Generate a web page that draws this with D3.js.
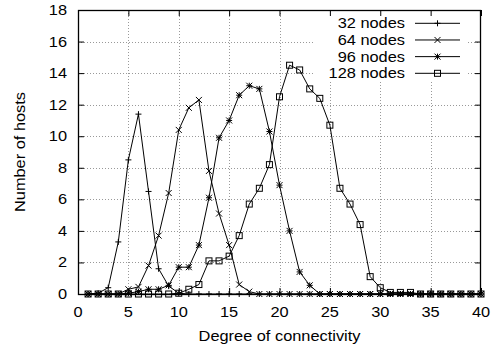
<!DOCTYPE html>
<html>
<head>
<meta charset="utf-8">
<script src="https://cdn.jsdelivr.net/npm/d3@7"></script>
<style>
  html, body { margin: 0; padding: 0; background: #fff; }
  svg text { font-family: "Liberation Sans", Arial, Helvetica, sans-serif; font-size: 14px; fill: #000; }
</style>
</head>
<body>
<svg id="chart" width="492" height="354"></svg>
<script>
// Degree of connectivity (x = 1..40)
const degrees = d3.range(1, 41);

// Number of hosts with each degree, per network size
const hosts32 = [0, 0.05, 0.4, 3.3, 8.5, 11.4, 6.5, 1.6, 0.5, 0.05,
  0, 0, 0, 0, 0, 0, 0, 0, 0, 0, 0, 0, 0, 0, 0, 0, 0, 0, 0, 0,
  0, 0, 0, 0, 0, 0, 0, 0, 0, 0];
const hosts64 = [0, 0, 0, 0, 0.3, 0.45, 1.8, 3.7, 6.4, 10.4,
  11.8, 12.3, 7.8, 5.1, 3.1, 0.6, 0.15, 0, 0, 0, 0, 0, 0, 0, 0, 0, 0, 0, 0, 0,
  0, 0, 0, 0, 0, 0, 0, 0, 0, 0];
const hosts96 = [0, 0, 0, 0, 0.05, 0.15, 0.3, 0.3, 0.55, 1.7,
  1.7, 3.1, 6.1, 9.9, 11.0, 12.6, 13.2, 13.0, 10.3, 6.9,
  4.0, 1.4, 0.55, 0, 0, 0, 0, 0, 0, 0, 0, 0, 0, 0, 0, 0, 0, 0, 0, 0];
const hosts128 = [0, 0, 0, 0, 0, 0, 0, 0, 0, 0.05,
  0.3, 0.6, 2.1, 2.1, 2.4, 3.7, 5.7, 6.7, 8.2, 12.5,
  14.5, 14.2, 13.0, 12.4, 10.7, 6.7, 5.7, 4.4, 1.1, 0.4,
  0.1, 0.1, 0.1, 0, 0, 0, 0, 0, 0, 0];

const seriesNames = ["32 nodes", "64 nodes", "96 nodes", "128 nodes"];
const seriesMarkers = ["plus", "cross", "star", "box"];
const seriesValues = [hosts32, hosts64, hosts96, hosts128];

const xTicks = [0, 5, 10, 15, 20, 25, 30, 35, 40];
const yTicks = [0, 2, 4, 6, 8, 10, 12, 14, 16, 18];

const svg = d3.select("#chart");
const L = 78, R = 481, T = 10, B = 294;
const STRETCH = 1.17; // horizontal stretch of the label font

const x = d3.scaleLinear().domain([0, 40]).range([L, R]);
const y = d3.scaleLinear().domain([0, 18]).range([B, T]);

// Text helper: places a horizontally stretched label
function label(px, py, str, anchor, rotate) {
  return svg.append("text")
    .attr("transform", `translate(${px},${py})${rotate ? " rotate(-90)" : ""} scale(${STRETCH},1)`)
    .attr("text-anchor", anchor).text(str);
}

// Grid lines (dotted grey)
const grid = svg.append("g").attr("stroke", "#999").attr("stroke-width", 1)
  .attr("stroke-dasharray", "1,2").attr("shape-rendering", "crispEdges");
xTicks.filter(v => v > 0 && v < 40).forEach(v => {
  grid.append("line").attr("x1", Math.round(x(v)) + 0.5).attr("x2", Math.round(x(v)) + 0.5)
    .attr("y1", T).attr("y2", B);
});
yTicks.filter(v => v > 0 && v < 18).forEach(v => {
  grid.append("line").attr("y1", Math.round(y(v)) + 0.5).attr("y2", Math.round(y(v)) + 0.5)
    .attr("x1", L).attr("x2", R);
});

// Key background hides the grid behind it
svg.append("rect").attr("x", 314).attr("y", T + 1).attr("width", 154).attr("height", 70)
  .attr("fill", "#fff");

// Tick marks mirrored on all four sides
const tick = 6;
svg.append("g").attr("transform", `translate(0,${B})`)
  .call(d3.axisBottom(x).tickValues(xTicks).tickSize(-tick).tickFormat(""))
  .call(g => g.select(".domain").remove());
svg.append("g").attr("transform", `translate(${L},0)`)
  .call(d3.axisLeft(y).tickValues(yTicks).tickSize(-tick).tickFormat(""))
  .call(g => g.select(".domain").remove());
svg.append("g").attr("transform", `translate(0,${T})`)
  .call(d3.axisTop(x).tickValues(xTicks).tickSize(-tick).tickFormat(""))
  .call(g => g.select(".domain").remove());
svg.append("g").attr("transform", `translate(${R},0)`)
  .call(d3.axisRight(y).tickValues(yTicks).tickSize(-tick).tickFormat(""))
  .call(g => g.select(".domain").remove());
svg.selectAll(".tick line").attr("stroke", "#000");

// Tick labels
xTicks.forEach(v => label(x(v), 317, String(v), "middle"));
yTicks.forEach(v => label(67, y(v) + 5, String(v), "end"));

svg.append("rect").attr("x", L + 0.5).attr("y", T + 0.5).attr("width", R - L - 1).attr("height", B - T)
  .attr("fill", "none").attr("stroke", "#000").attr("stroke-width", 1.3);

// Marker shapes
function drawMarker(g, kind, cx, cy) {
  const s = 3;
  if (kind === "plus") {
    g.append("path").attr("d", `M${cx - s},${cy}H${cx + s}M${cx},${cy - s}V${cy + s}`);
  } else if (kind === "cross") {
    g.append("path").attr("d", `M${cx - s},${cy - s}L${cx + s},${cy + s}M${cx - s},${cy + s}L${cx + s},${cy - s}`);
  } else if (kind === "star") {
    g.append("path").attr("d", `M${cx - s},${cy - s}L${cx + s},${cy + s}M${cx - s},${cy + s}L${cx + s},${cy - s}M${cx - s},${cy}H${cx + s}M${cx},${cy - s}V${cy + s}`);
  } else {
    g.append("rect").attr("x", cx - s).attr("y", cy - s).attr("width", 2 * s).attr("height", 2 * s)
      .attr("fill", "none");
  }
}

const line = d3.line().x(d => x(d[0])).y(d => y(d[1]));

seriesValues.forEach((vals, i) => {
  const pts = degrees.map((d, j) => [d, vals[j]]);
  const g = svg.append("g").attr("stroke", "#000").attr("stroke-width", 1).attr("fill", "none");
  g.append("path").attr("d", line(pts));
  pts.forEach(p => drawMarker(g, seriesMarkers[i], x(p[0]), y(p[1])));
});

// Key
seriesNames.forEach((name, i) => {
  const ky = 23.3 + i * 16.67;
  label(405, ky + 5, name, "end");
  const g = svg.append("g").attr("stroke", "#000").attr("stroke-width", 1).attr("fill", "none");
  g.append("line").attr("x1", 415).attr("x2", 460).attr("y1", ky).attr("y2", ky);
  drawMarker(g, seriesMarkers[i], 437.5, ky);
});

// Axis titles
label((L + R) / 2, 341, "Degree of connectivity", "middle");
label(25, (T + B) / 2, "Number of hosts", "middle", true);
</script>
</body>
</html>
